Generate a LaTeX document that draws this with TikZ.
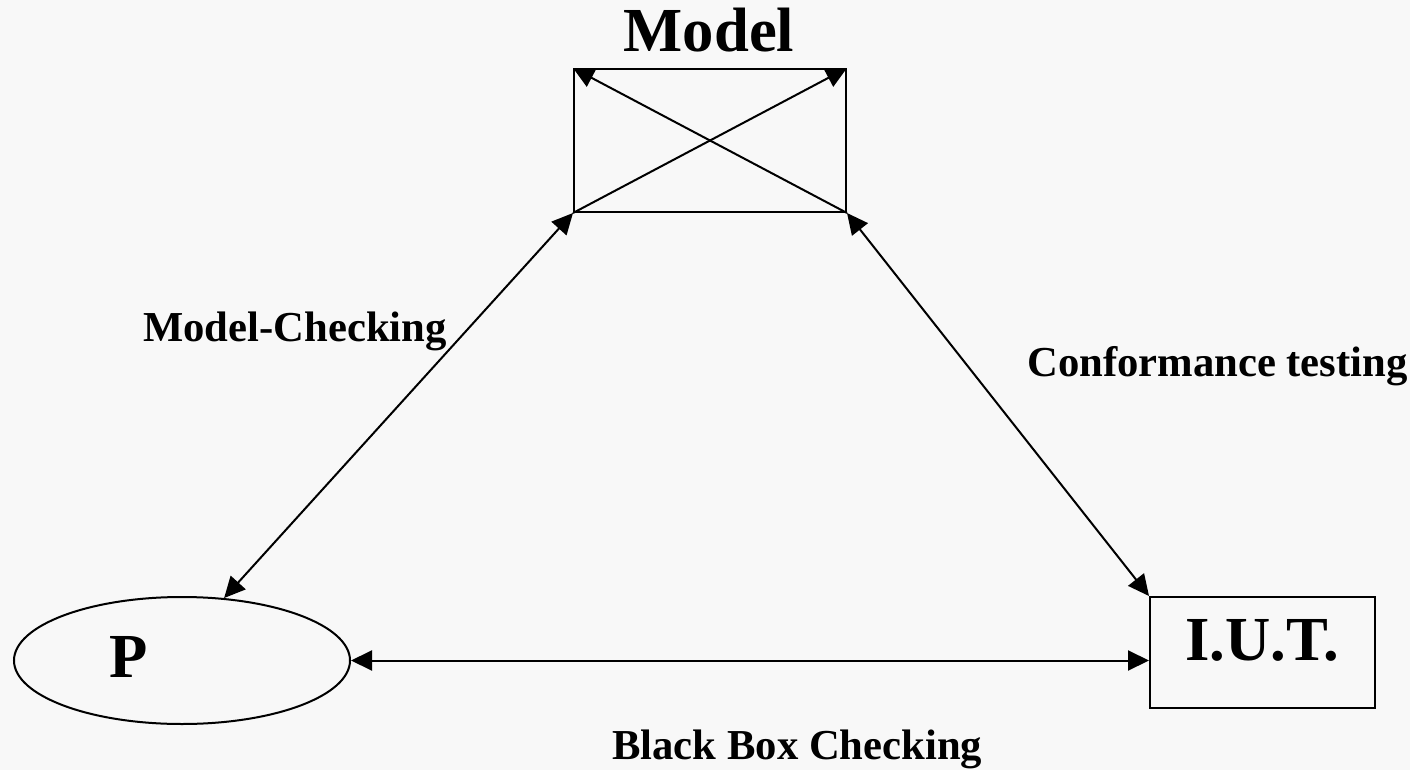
\documentclass[tikz,border=0pt]{standalone}
\usepackage{fontspec}
\setmainfont{Liberation Serif}
\usetikzlibrary{arrows.meta,shapes.geometric}
\definecolor{paper}{HTML}{F8F8F8}
\tikzset{
  px/.style={x=0.75pt,y=-0.75pt},
  edge/.style={line width=1.5pt,black},
  tip/.tip={Triangle[length=15.75pt,width=15pt]},
  big/.style={font=\fontsize{47}{50}\selectfont\bfseries,inner sep=0pt},
  small/.style={font=\fontsize{32}{36}\selectfont\bfseries,inner sep=0pt},
  frame/.style={draw,line width=1.5pt,inner sep=0pt}
}
\begin{document}
\begin{tikzpicture}[px]
  % canvas
  \fill[paper] (0,0) rectangle (1410,770);
  \useasboundingbox (0,0) rectangle (1410,770);

  % boxes and ellipse
  \node[frame,rectangle,minimum width=204pt,minimum height=107.25pt] (model) at (710,140.5) {};
  \node[frame,rectangle,minimum width=168.75pt,minimum height=83.25pt] (iut) at (1262.5,652.5) {};
  \node[frame,ellipse,minimum width=252pt,minimum height=95.25pt] (p) at (182,660.5) {};

  % titles
  \node[big,anchor=base] (modeltitle) at (709,52) {Model};
  \node[big,anchor=base] (iuttext) at (1262,660) {I.U.T.};
  \node[big,anchor=base] (ptext) at (129,677) {P};

  % crossing arrows inside the model box
  \draw[edge,-tip] (model.south west) -- (model.north east);
  \draw[edge,-tip] (model.south east) -- (model.north west);

  % the three relations
  \draw[edge,tip-tip] (model.south west) -- (p.56);
  \draw[edge,tip-tip] (model.south east) -- (iut.north west);
  \draw[edge,tip-tip] (p.east) -- (p.east -| iut.west);

  % relation labels
  \node[small,anchor=base west] (mc) at (143,341) {Model-Checking};
  \node[small,anchor=base west] (ct) at (1027,376) {Conformance testing};
  \node[small,anchor=base west] (bb) at (612,759) {Black Box Checking};
\end{tikzpicture}
\end{document}
